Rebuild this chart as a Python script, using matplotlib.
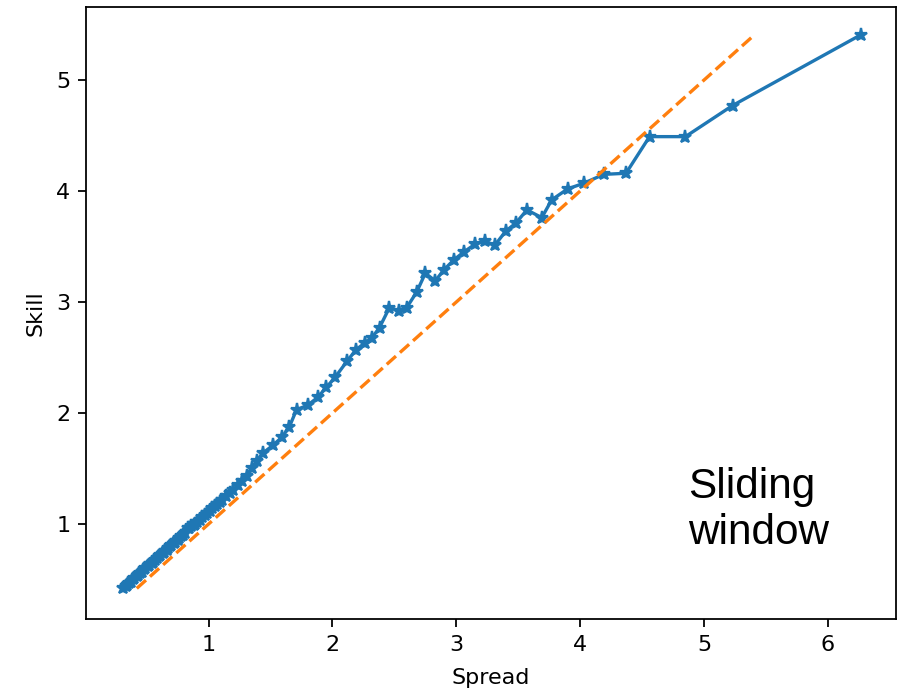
import matplotlib
matplotlib.use("Agg")
import matplotlib.pyplot as plt

# spread / skill pairs
spread = [0.31, 0.33, 0.34, 0.36, 0.37, 0.39, 0.40, 0.42, 0.43, 0.45,
          0.46, 0.48, 0.49, 0.51, 0.52, 0.54, 0.55, 0.57, 0.58, 0.60,
          0.61, 0.63, 0.64, 0.66, 0.67, 0.69, 0.70, 0.72, 0.73, 0.75,
          0.76, 0.78, 0.79, 0.81, 0.83, 0.84, 0.86, 0.88, 0.89, 0.91,
          0.93, 0.95, 0.97, 0.99, 1.01, 1.03, 1.05, 1.07, 1.09, 1.11,
          1.14, 1.17, 1.20, 1.24, 1.27, 1.31,
          1.35, 1.39, 1.44, 1.52, 1.59, 1.65, 1.71, 1.80, 1.88, 1.95,
          2.02, 2.12, 2.19, 2.26, 2.32, 2.38, 2.46, 2.54, 2.60, 2.68,
          2.75, 2.83, 2.90, 2.98, 3.06, 3.15, 3.23, 3.31, 3.40, 3.48,
          3.57, 3.69, 3.77, 3.90, 4.03, 4.19, 4.37, 4.56, 4.85, 5.23,
          6.27]
skill = [0.42, 0.44, 0.45, 0.47, 0.48, 0.50, 0.51, 0.53, 0.54, 0.56,
         0.57, 0.59, 0.60, 0.62, 0.63, 0.65, 0.66, 0.68, 0.69, 0.71,
         0.72, 0.74, 0.75, 0.77, 0.78, 0.80, 0.81, 0.83, 0.84, 0.86,
         0.87, 0.89, 0.90, 0.92, 0.96, 0.96, 0.98, 0.99, 1.00, 1.02,
         1.04, 1.06, 1.08, 1.10, 1.12, 1.14, 1.16, 1.18, 1.20, 1.22,
         1.25, 1.28, 1.31, 1.35, 1.39, 1.43,
         1.50, 1.57, 1.64, 1.71, 1.78, 1.87, 2.03, 2.07, 2.14, 2.23,
         2.32, 2.47, 2.57, 2.63, 2.68, 2.77, 2.95, 2.92, 2.95, 3.09,
         3.26, 3.19, 3.29, 3.38, 3.45, 3.52, 3.55, 3.51, 3.64, 3.71,
         3.83, 3.76, 3.92, 4.02, 4.07, 4.15, 4.16, 4.49, 4.49, 4.77,
         5.41]

# one-to-one reference line
diag = [0.42, 5.40]

fig = plt.figure(figsize=(897 / 160, 691 / 160), dpi=160)
ax = fig.add_axes([86 / 897, 72 / 691, 810 / 897, 612 / 691])

ax.plot(spread, skill, marker="*")
ax.plot(diag, diag, "--")

ax.set_xlim(0.01, 6.55)
ax.set_ylim(0.144, 5.658)
ax.set_xlabel("Spread", labelpad=6.2)
ax.set_ylabel("Skill", labelpad=5)

ax.text(0.743, 0.2485, "Sliding\nwindow", transform=ax.transAxes,
        fontsize=19, family="Liberation Sans", ha="left", va="top")

fig.savefig("out.png", dpi=160)
